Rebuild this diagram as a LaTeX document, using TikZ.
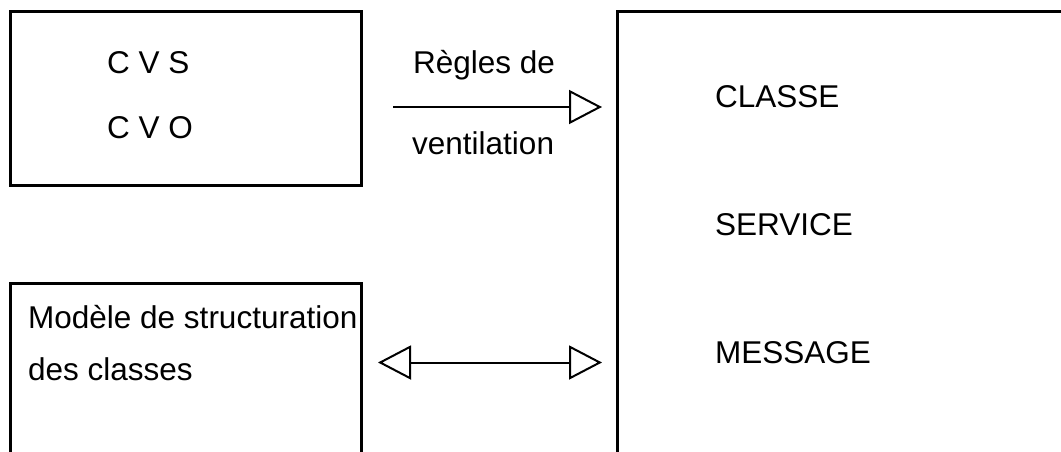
\documentclass[tikz,border=0pt]{standalone}
\usepackage{fontspec}
\setmainfont{Liberation Sans}
\usetikzlibrary{arrows.meta}

\tikzset{
	txt/.style={anchor=base west, inner sep=0pt, font=\fontsize{31.5}{38}\selectfont},
	boxline/.style={line width=3pt},
	flow/.style={line width=2pt, -{Triangle[open, length=33pt, width=34pt, line width=2pt]}},
	flowboth/.style={line width=2pt, {Triangle[open, length=33pt, width=34pt, line width=2pt]}-{Triangle[open, length=33pt, width=34pt, line width=2pt]}}
}

\begin{document}
\begin{tikzpicture}[x=1pt, y=-1pt]
	\useasboundingbox (0,0) rectangle (1061,452);
	\clip (0,0) rectangle (1061,452);

	% boxes
	\draw[boxline] (10.5,11.5) rectangle (361.5,185.5);
	\draw[boxline] (10.5,470) -- (10.5,283.5) -- (361.5,283.5) -- (361.5,470);
	\draw[boxline] (617.5,470) -- (617.5,11.5) -- (1080,11.5);

	% texts
	\node[txt] (cvs)     at (107,74)  {C V S};
	\node[txt] (cvo)     at (107,139) {C V O};
	\node[txt] (regles)  at (413,74)  {Règles de};
	\node[txt] (ventil)  at (412,154) {ventilation};
	\node[txt] (modele)  at (28,328)  {Modèle de structuration};
	\node[txt] (descl)   at (28,380)  {des classes};
	\node[txt] (classe)  at (715,107) {CLASSE};
	\node[txt] (service) at (715,235) {SERVICE};
	\node[txt] (message) at (715,363) {MESSAGE};

	% arrows
	\coordinate (ventA) at (393,107);
	\coordinate (ventB) at (602,107);
	\coordinate (modA)  at (378,362.5);
	\coordinate (modB)  at (602,362.5);
	\draw[flow] (ventA) -- (ventB);
	\draw[flowboth] (modA) -- (modB);

\end{tikzpicture}
\end{document}
